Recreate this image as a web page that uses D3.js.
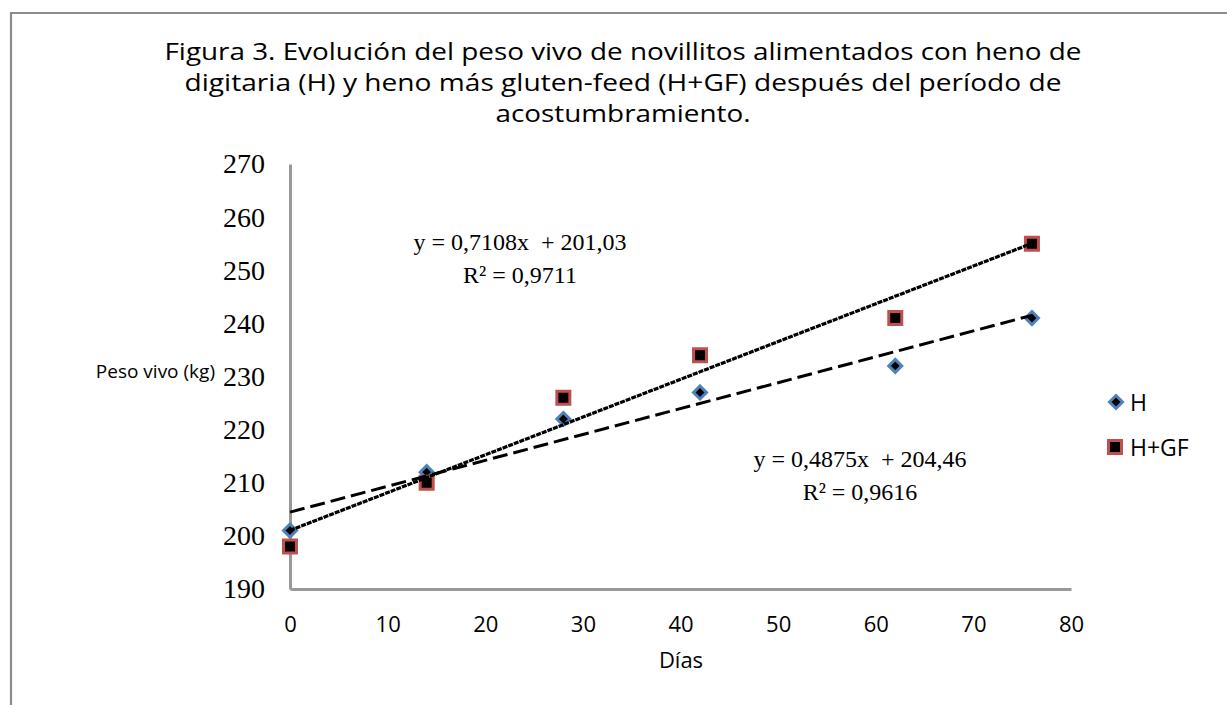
<!DOCTYPE html>
<html>
<head>
<meta charset="utf-8">
<script src="https://cdn.jsdelivr.net/npm/d3@7"></script>
<style>
  html, body { margin: 0; padding: 0; background: #fff; }
  svg { display: block; }
</style>
</head>
<body>
<svg id="chart" width="1227" height="705"></svg>
<script>
// ---- Data ----
const days = [0, 14, 28, 42, 62, 76];
const pesoH = [201, 212, 222, 227, 232, 241];
const pesoHGF = [198, 210, 226, 234, 241, 255];
const seriesNames = ["H", "H+GF"];
const xTicks = [0, 10, 20, 30, 40, 50, 60, 70, 80];
const yTicks = [190, 200, 210, 220, 230, 240, 250, 260, 270];
const titleLines = [
  "Figura 3. Evolución del peso vivo de novillitos alimentados con heno de",
  "digitaria (H) y heno más gluten-feed (H+GF) después del período de",
  "acostumbramiento."
];
const eqHGF = ["y = 0,7108x  + 201,03", "R² = 0,9711"];
const eqH = ["y = 0,4875x  + 204,46", "R² = 0,9616"];
const xLabel = "Días";
const yLabel = "Peso vivo (kg)";

// ---- Setup ----
const svg = d3.select("#chart");
const sans = "'Open Sans', 'Noto Sans', sans-serif";
const serif = "'Liberation Serif', 'Times New Roman', serif";
const axisColor = "#999999";
const blue = "#4F81BD", red = "#C0504D";

const x = d3.scaleLinear().domain([0, 80]).range([290, 1071]);
const y = d3.scaleLinear().domain([190, 270]).range([589, 164]);

// outer frame (top and left edges visible)
svg.append("path")
  .attr("d", "M11,705 L11,13 L1227,13")
  .attr("fill", "none").attr("stroke", "#8c8c8c").attr("stroke-width", 2.2);

// title
const titleWidths = [917, 877, 255];
svg.append("g").selectAll("text").data(titleLines).join("text")
  .attr("x", 623).attr("y", (d, i) => 60 + i * 31)
  .attr("text-anchor", "middle")
  .attr("font-family", sans).attr("font-size", 23).attr("fill", "#000")
  .attr("textLength", (d, i) => titleWidths[i]).attr("lengthAdjust", "spacingAndGlyphs")
  .text(d => d);

// axes
const yAxis = svg.append("g").attr("transform", "translate(290,0)")
  .call(d3.axisLeft(y).tickValues(yTicks).tickSize(0).tickPadding(25).tickFormat(d3.format("d")));
yAxis.select(".domain").attr("stroke", axisColor).attr("stroke-width", 3);
yAxis.selectAll("text").attr("font-family", serif).attr("font-size", 28).attr("fill", "#000");

const xAxis = svg.append("g").attr("transform", "translate(0,589)")
  .call(d3.axisBottom(x).tickValues(xTicks).tickSize(0).tickFormat(d3.format("d")));
xAxis.select(".domain").attr("stroke", axisColor).attr("stroke-width", 3);
xAxis.selectAll("text").attr("font-family", sans).attr("font-size", 22).attr("fill", "#000")
  .attr("y", 43).attr("dy", 0);

// axis titles
svg.append("text").attr("x", 681).attr("y", 668).attr("text-anchor", "middle")
  .attr("font-family", sans).attr("font-size", 22).text(xLabel);
svg.append("text").attr("x", 215).attr("y", 378).attr("text-anchor", "end")
  .attr("font-family", sans).attr("font-size", 19).text(yLabel);

// markers
const diamond = "M0,-6.5L6.5,0L0,6.5L-6.5,0Z";
const square = "M-6.5,-6.5H6.5V6.5H-6.5Z";
const dataH = days.map((d, i) => ({x: d, y: pesoH[i]}));
const dataHGF = days.map((d, i) => ({x: d, y: pesoHGF[i]}));

svg.append("g").selectAll("path").data(dataH).join("path")
  .attr("d", diamond).attr("transform", d => `translate(${x(d.x)},${y(d.y)})`)
  .attr("fill", "#000").attr("stroke", blue).attr("stroke-width", 3);
svg.append("g").selectAll("path").data(dataHGF).join("path")
  .attr("d", square).attr("transform", d => `translate(${x(d.x)},${y(d.y)})`)
  .attr("fill", "#000").attr("stroke", red).attr("stroke-width", 3);

// linear trendlines (least squares from the data)
function fit(data) {
  const mx = d3.mean(data, d => d.x), my = d3.mean(data, d => d.y);
  const b = d3.sum(data, d => (d.x - mx) * (d.y - my)) / d3.sum(data, d => (d.x - mx) ** 2);
  return {b, a: my - b * mx};
}
const line = d3.line().x(d => x(d.x)).y(d => y(d.y));
function trend(data, dash, w) {
  const f = fit(data);
  const x0 = d3.min(data, d => d.x), x1 = d3.max(data, d => d.x);
  svg.append("path").datum([{x: x0, y: f.a + f.b * x0}, {x: x1, y: f.a + f.b * x1}])
    .attr("d", line).attr("fill", "none").attr("stroke", "#000")
    .attr("stroke-width", w).attr("stroke-dasharray", dash);
}
trend(dataH, "15,6", 3);
trend(dataHGF, "5,1", 3.2);

// equations
function eq(lines, cx, yb) {
  svg.append("g").selectAll("text").data(lines).join("text")
    .attr("x", cx).attr("y", (d, i) => yb + i * 33)
    .attr("text-anchor", "middle").attr("font-family", serif).attr("font-size", 24)
    .attr("fill", "#000").style("white-space", "pre").attr("xml:space", "preserve")
    .text(d => d);
}
eq(eqHGF, 520, 250);
eq(eqH, 860, 467);

// legend
const legend = svg.append("g");
legend.append("path").attr("d", diamond).attr("transform", "translate(1116,402)")
  .attr("fill", "#000").attr("stroke", blue).attr("stroke-width", 3);
legend.append("path").attr("d", square).attr("transform", "translate(1115,447)")
  .attr("fill", "#000").attr("stroke", red).attr("stroke-width", 3);
legend.selectAll("text").data(seriesNames).join("text")
  .attr("x", 1130).attr("y", (d, i) => 411 + i * 45)
  .attr("font-family", sans).attr("font-size", 23).attr("fill", "#000")
  .text(d => d);
</script>
</body>
</html>
